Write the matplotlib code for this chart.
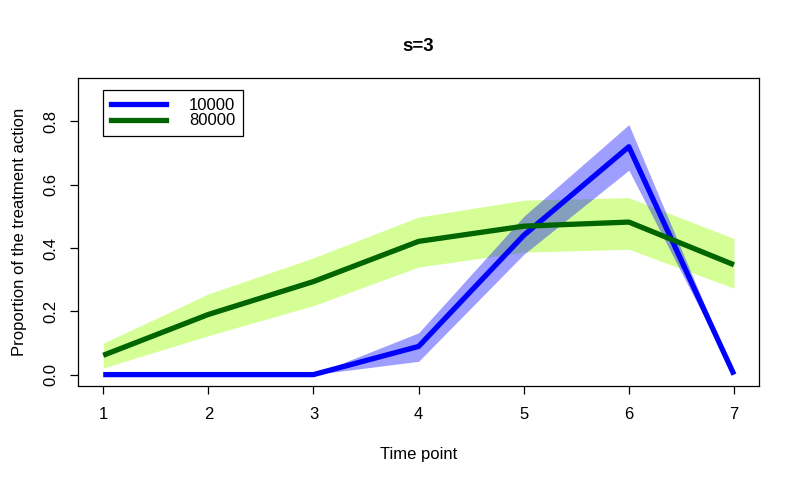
import matplotlib

matplotlib.use("Agg")
import matplotlib.pyplot as plt
from matplotlib.lines import Line2D

plt.rcParams["font.family"] = ["Liberation Sans", "DejaVu Sans"]

time = [1, 2, 3, 4, 5, 6, 7]

# s=3, 10000
blue_mean = [0.0, 0.0, 0.0, 0.089, 0.44, 0.72, 0.0]
blue_lo = [0.0, 0.0, 0.0, 0.042, 0.38, 0.646, 0.0]
blue_hi = [0.0, 0.0, 0.0, 0.132, 0.50, 0.79, 0.0]

# s=3, 80000
green_mean = [0.061, 0.19, 0.294, 0.421, 0.469, 0.482, 0.347]
green_lo = [0.021, 0.123, 0.218, 0.34, 0.387, 0.396, 0.273]
green_hi = [0.099, 0.255, 0.369, 0.498, 0.551, 0.559, 0.43]

labels = ["10000", "80000"]

fig = plt.figure(figsize=(8, 4.84), dpi=100)
ax = fig.add_axes([0.0975, 0.2025, 0.8515, 0.6355])

ax.fill_between(time, green_lo, green_hi, color="#adff2f", alpha=0.5, lw=0)
ax.fill_between(time, blue_lo, blue_hi, color="blue", alpha=0.38, lw=0)
ax.plot(time, blue_mean, color="blue", lw=3.8, solid_capstyle="butt")
ax.plot(time, green_mean, color="#006400", lw=3.8, solid_capstyle="butt")

ax.set_xlim(0.76, 7.24)
ax.set_ylim(-0.036, 0.936)
ax.set_xticks(time)
ax.set_yticks([0.0, 0.2, 0.4, 0.6, 0.8])
ax.set_yticklabels(["0.0", "0.2", "0.4", "0.6", "0.8"], rotation=90, va="center")
ax.tick_params(labelsize=12, length=6, width=0.9, color="black")
ax.tick_params(axis="x", pad=9)
ax.tick_params(axis="y", pad=8)
for sp in ax.spines.values():
    sp.set_linewidth(0.9)

ax.set_title("s=3", fontsize=13.5, fontweight="bold", pad=20)
ax.set_xlabel("Time point", fontsize=12, labelpad=18)
ax.set_ylabel("Proportion of the treatment action", fontsize=12, labelpad=12)

handles = [Line2D([0], [0], color="blue", lw=3.8),
           Line2D([0], [0], color="#006400", lw=3.8)]
ax.legend(handles, labels, loc="upper left", bbox_to_anchor=(0.037, 0.962),
          borderaxespad=0, fontsize=12, frameon=True, fancybox=False,
          edgecolor="black", framealpha=1, handlelength=3.3, labelspacing=0.05,
          borderpad=0.45, handletextpad=1.4).get_frame().set_linewidth(0.9)

fig.savefig("out.png", dpi=100)
